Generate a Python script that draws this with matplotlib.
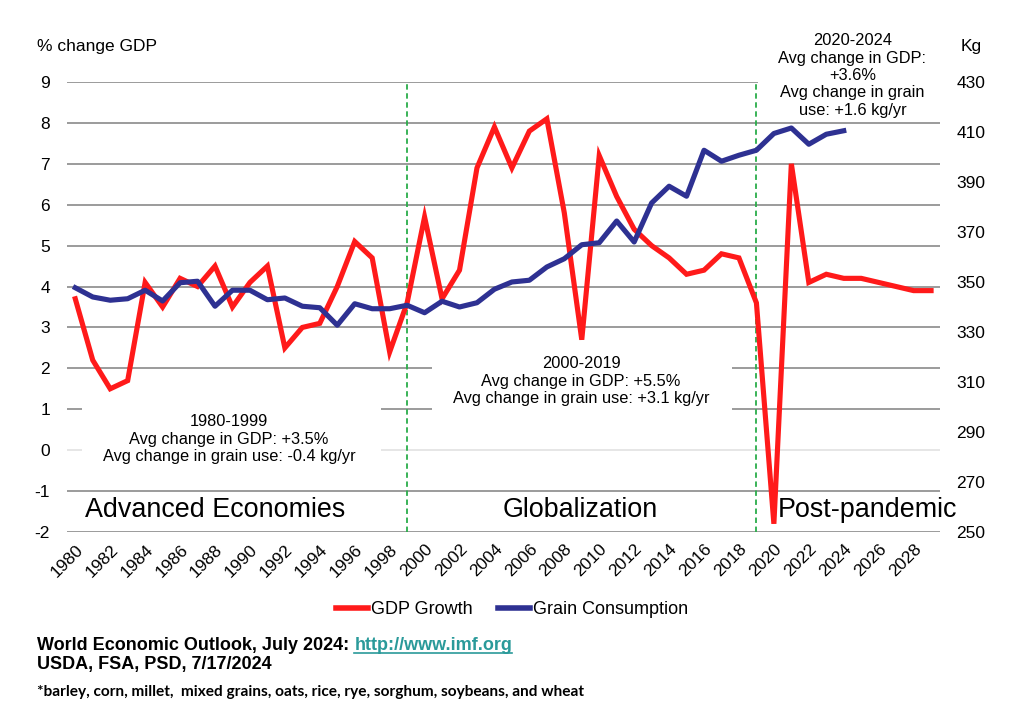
import numpy as np
import matplotlib
matplotlib.use("Agg")
import matplotlib.pyplot as plt
from matplotlib.patches import Rectangle
from matplotlib.lines import Line2D

# ----------------------------------------------------------------------
# data
# ----------------------------------------------------------------------
years = list(range(1980, 2030))
gdp_growth = [3.7, 2.2, 1.5, 1.7, 4.1, 3.5, 4.2, 4.0, 4.5, 3.5,
              4.1, 4.5, 2.5, 3.0, 3.1, 4.0, 5.1, 4.7, 2.4, 3.6,
              5.7, 3.7, 4.4, 6.9, 7.9, 6.9, 7.8, 8.1, 5.8, 2.7,
              7.2, 6.2, 5.4, 5.0, 4.7, 4.3, 4.4, 4.8, 4.7, 3.6,
              -1.8, 7.0, 4.1, 4.3, 4.2, 4.2, 4.1, 4.0, 3.9, 3.9]
grain_years = list(range(1980, 2025))
grain_kg = [347.7, 344.0, 342.7, 343.3, 346.7, 342.4, 349.7, 350.3, 340.3, 346.7,
            346.7, 342.9, 343.6, 340.3, 339.7, 332.7, 341.3, 339.3, 339.3, 340.7,
            337.7, 342.3, 340.0, 341.7, 347.1, 350.0, 350.7, 356.0, 359.3, 364.9,
            365.7, 374.4, 366.0, 381.6, 388.3, 384.3, 402.7, 398.3, 400.7, 402.7,
            409.4, 411.6, 405.1, 409.1, 410.5]

left_ticks = list(range(-2, 10))
right_ticks = list(range(250, 431, 20))
xtick_years = list(range(1980, 2029, 2))
era_breaks = [1999, 2019]

era_names = ["Advanced Economies", "Globalization", "Post-pandemic"]
era_notes = [
    "1980-1999\nAvg change in GDP: +3.5%\nAvg change in grain use: -0.4 kg/yr",
    "2000-2019\nAvg change in GDP: +5.5%\nAvg change in grain use: +3.1 kg/yr",
    "2020-2024\nAvg change in GDP:\n+3.6%\nAvg change in grain\nuse: +1.6 kg/yr",
]

RED = "#ff1a1a"
BLUE = "#2e3192"
GREEN = "#2aad4a"
GRID = "#8a8a8a"
FONT = "Liberation Sans"

plt.rcParams["font.family"] = [FONT, "DejaVu Sans"]

fig = plt.figure(figsize=(10.16, 7.13), dpi=100)
ax = fig.add_axes([0.0655, 0.2539, 0.925 - 0.0655, 0.885 - 0.2539])
ax2 = ax.twinx()

ax.set_xlim(1979.5, 2029.5)
ax.set_ylim(-2, 9)
ax2.set_ylim(250, 430)

# gridlines (the zero line is a lighter grey in the original)
for v in left_ticks:
    col = "#e2e2e2" if v == 0 else GRID
    ax.axhline(v, color=col, lw=1.2, zorder=1)

# white text boxes that hide parts of the grid
ax.add_patch(Rectangle((1980.4, -0.9), 17.1, 2.8, facecolor="white",
                       edgecolor="none", zorder=2))
ax.add_patch(Rectangle((2000.4, 0.5), 17.2, 2.15, facecolor="white",
                       edgecolor="none", zorder=2))
ax.add_patch(Rectangle((2019.08, 8.55), 10.6, 2.0, facecolor="white",
                       edgecolor="none", zorder=2, clip_on=False))

for yr in era_breaks:
    ax.axvline(yr, ymax=0.995, color=GREEN, lw=1.3, ls=(0, (3, 2)), zorder=3)

ax.plot(years, gdp_growth, color=RED, lw=3.7, zorder=4, solid_joinstyle="miter")
ax2.plot(grain_years, grain_kg, color=BLUE, lw=3.7, zorder=4)

for a in (ax, ax2):
    for s in a.spines.values():
        s.set_visible(False)

ax.set_yticks(left_ticks)
ax.set_yticklabels([str(v) for v in left_ticks])
ax.tick_params(axis="y", length=0, pad=12, labelsize=12.5)
ax2.set_yticks(right_ticks)
ax2.tick_params(axis="y", length=0, pad=12, labelsize=12.5)

ax.set_xticks(xtick_years)
ax.set_xticklabels([str(y) for y in xtick_years], rotation=45, ha="right",
                   va="top", rotation_mode="anchor")
ax.tick_params(axis="x", length=0, pad=7, labelsize=12.5)

# era captions and notes
ax.text(1988.0, -1.47, era_names[0], fontsize=19.4, ha="center", va="center", zorder=5)
ax.text(2008.9, -1.47, era_names[1], fontsize=19.4, ha="center", va="center", zorder=5)
ax.text(2020.2, -1.47, era_names[2], fontsize=19.4, ha="left", va="center",
        zorder=5, clip_on=False)

ax.text(1988.8, 0.27, era_notes[0], fontsize=11.8, ha="center", va="center",
        linespacing=1.22, zorder=5)
ax.text(2008.96, 1.69, era_notes[1], fontsize=11.8, ha="center", va="center",
        linespacing=1.22, zorder=5)
ax.text(2024.5, 9.16, era_notes[2], fontsize=11.8, ha="center", va="center",
        linespacing=1.2, zorder=5, clip_on=False)

# axis titles
fig.text(37 / 1016, 1 - 47 / 713, "% change GDP", fontsize=12.5, ha="left", va="center")
fig.text(971 / 1016, 1 - 46 / 713, "Kg", fontsize=12.5, ha="center", va="center")

# legend
handles = [Line2D([], [], color=RED, lw=4), Line2D([], [], color=BLUE, lw=4)]
fig.legend(handles, ["GDP Growth", "Grain Consumption"], loc="center",
           bbox_to_anchor=(512 / 1016, 1 - 610 / 713), ncol=2, frameon=False,
           fontsize=13, handlelength=1.8, handletextpad=0.15, columnspacing=1.4)

# footer
src1 = fig.text(37 / 1016, 1 - 645 / 713, "World Economic Outlook, July 2024: ",
                fontsize=13, fontweight="bold", ha="left", va="center")
fig.canvas.draw()
r = fig.canvas.get_renderer()
bb = src1.get_window_extent(r)
link_x = bb.x1 / fig.bbox.width
link = fig.text(link_x, 1 - 645 / 713, "http://www.imf.org", fontsize=13,
                fontweight="bold", color="#2a9a9a", ha="left", va="center")
lb = link.get_window_extent(r)
uy = (lb.y0 + 1) / fig.bbox.height
fig.add_artist(Line2D([lb.x0 / fig.bbox.width, lb.x1 / fig.bbox.width], [uy, uy],
                      color="#2a9a9a", lw=1.2, transform=fig.transFigure))
fig.text(37 / 1016, 1 - 664 / 713, "USDA, FSA, PSD, 7/17/2024", fontsize=13,
         fontweight="bold", ha="left", va="center")
fig.text(37 / 1016, 1 - 692 / 713,
         "*barley, corn, millet,  mixed grains, oats, rice, rye, sorghum, soybeans, and wheat",
         fontsize=11.1, fontweight="bold", ha="left", va="center",
         family=["Lato", "DejaVu Sans"])

fig.savefig("out.png", dpi=100)
